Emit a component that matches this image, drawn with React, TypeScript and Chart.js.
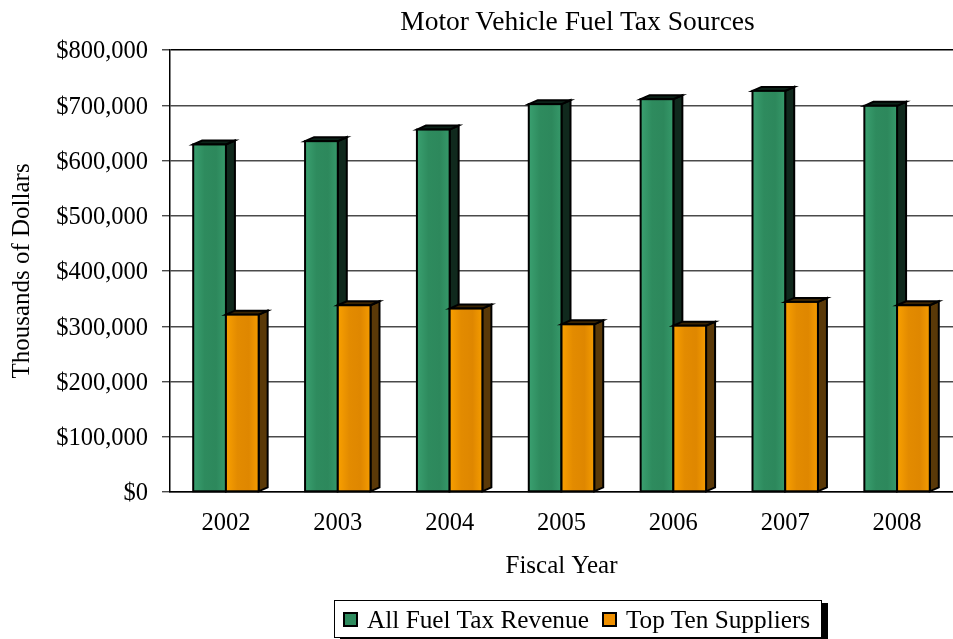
import React, { useEffect, useRef } from "react";
import { Chart, registerables } from "chart.js";

Chart.register(...registerables);

const categories = ["2002", "2003", "2004", "2005", "2006", "2007", "2008"];
const allFuelTaxRevenue = [629000, 635000, 656000, 702000, 711000, 726000, 699000];
const topTenSuppliers = [321000, 338000, 332000, 303500, 301000, 344000, 338000];
const seriesLabels = ["All Fuel Tax Revenue", "Top Ten Suppliers"];
const yTickValues = [0, 100000, 200000, 300000, 400000, 500000, 600000, 700000, 800000];
const chartTitle = "Motor Vehicle Fuel Tax Sources";
const xAxisTitle = "Fiscal Year";
const yAxisTitle = "Thousands of Dollars";

const FONT = '"Liberation Serif", "Times New Roman", serif';

const palettes = [
  { front: ["#3aa070", "#2e8b5e", "#2d885c", "#36996a"], side: "#10291d", top: "#0c2218", swatch: "#2e8b5e" },
  { front: ["#f9a000", "#e38b00", "#df8700", "#f59c00"], side: "#5a3908", top: "#3b2503", swatch: "#ef9000" },
];

const DEPTH_X = 9;
const DEPTH_Y = 4;

const bar3dPlugin = {
  id: "bar3d",
  afterDatasetsDraw(chart: any) {
    const ctx = chart.ctx;
    const metas = chart.data.datasets.map((_: any, i: number) => chart.getDatasetMeta(i));
    const n = chart.data.labels.length;
    ctx.save();
    ctx.lineJoin = "miter";
    for (let i = 0; i < n; i++) {
      metas.forEach((meta: any, d: number) => {
        const el = meta.data[i];
        if (!el) return;
        const p = el.getProps(["x", "y", "base", "width"], true);
        const left = p.x - p.width / 2;
        const right = p.x + p.width / 2;
        const top = p.y;
        const base = p.base;
        const pal = palettes[d];
        ctx.lineWidth = 2;
        ctx.strokeStyle = "#000";
        // side face
        ctx.beginPath();
        ctx.moveTo(right, top);
        ctx.lineTo(right + DEPTH_X, top - DEPTH_Y);
        ctx.lineTo(right + DEPTH_X, base - DEPTH_Y);
        ctx.lineTo(right, base);
        ctx.closePath();
        ctx.fillStyle = pal.side;
        ctx.fill();
        ctx.stroke();
        // top face
        ctx.beginPath();
        ctx.moveTo(left, top);
        ctx.lineTo(left + DEPTH_X, top - DEPTH_Y);
        ctx.lineTo(right + DEPTH_X, top - DEPTH_Y);
        ctx.lineTo(right, top);
        ctx.closePath();
        ctx.fillStyle = pal.top;
        ctx.fill();
        ctx.stroke();
        // front face
        const g = ctx.createLinearGradient(left, 0, right, 0);
        g.addColorStop(0, pal.front[0]);
        g.addColorStop(0.35, pal.front[1]);
        g.addColorStop(0.7, pal.front[2]);
        g.addColorStop(1, pal.front[3]);
        ctx.fillStyle = g;
        ctx.fillRect(left, top, right - left, base - top);
        ctx.strokeRect(left, top, right - left, base - top);
      });
    }
    ctx.restore();
  },
};

export default function App() {
  const canvasRef = useRef<HTMLCanvasElement | null>(null);

  useEffect(() => {
    document.body.style.margin = "0";
    const canvas = canvasRef.current;
    if (!canvas) return;
    const chart = new Chart(canvas, {
      type: "bar",
      data: {
        labels: categories,
        datasets: [
          {
            label: seriesLabels[0],
            data: allFuelTaxRevenue,
            backgroundColor: "rgba(0,0,0,0)",
            borderWidth: 0,
            categoryPercentage: 0.585,
            barPercentage: 1,
          },
          {
            label: seriesLabels[1],
            data: topTenSuppliers,
            backgroundColor: "rgba(0,0,0,0)",
            borderWidth: 0,
            categoryPercentage: 0.585,
            barPercentage: 1,
          },
        ],
      },
      options: {
        responsive: false,
        animation: false,
        devicePixelRatio: 1,
        layout: { padding: { top: 50, right: -6, bottom: 55, left: 0 } },
        plugins: {
          legend: { display: false },
          title: { display: false },
          tooltip: { enabled: false },
        },
        scales: {
          x: {
            type: "category",
            offset: true,
            grid: { display: false, drawTicks: false },
            border: { display: true, color: "#000", width: 1.5 },
            ticks: {
              color: "#000",
              font: { family: FONT, size: 24.5 },
              padding: 17,
              maxRotation: 0,
            },
            title: {
              display: true,
              text: xAxisTitle,
              color: "#000",
              font: { family: FONT, size: 25 },
              padding: { top: 0, bottom: 3 },
            },
            afterFit: (scale: any) => {
              scale.height = 92;
            },
          },
          y: {
            type: "linear",
            min: yTickValues[0],
            max: yTickValues[yTickValues.length - 1],
            afterBuildTicks: (scale: any) => {
              scale.ticks = yTickValues.map((v) => ({ value: v }));
            },
            grid: {
              color: (c: any) => (c.tick && c.tick.value === yTickValues[yTickValues.length - 1] ? "#000" : "#4a4a4a"),
              lineWidth: (c: any) => (c.tick && c.tick.value === yTickValues[yTickValues.length - 1] ? 1.5 : 1.4),
              drawTicks: true,
              tickLength: 8,
              tickColor: "#4a4a4a",
            },
            border: { display: true, color: "#000", width: 1.5 },
            ticks: {
              color: "#000",
              font: { family: FONT, size: 24.5 },
              padding: 14,
              labelOffset: 2,
              callback: (v: any) => "$" + Number(v).toLocaleString("en-US"),
            },
            title: {
              display: true,
              text: yAxisTitle,
              color: "#000",
              font: { family: FONT, size: 25 },
              padding: { top: 7, bottom: 0 },
            },
            afterFit: (scale: any) => {
              scale.width = 170;
            },
          },
        },
      },
      plugins: [bar3dPlugin],
    });
    return () => chart.destroy();
  }, []);

  return (
    <div style={{ position: "relative", width: 953, height: 639, background: "#fff", overflow: "hidden" }}>
      <canvas ref={canvasRef} width={953} height={639} style={{ display: "block", width: 953, height: 639 }} />
      <div
        style={{
          position: "absolute",
          left: 202,
          width: 751,
          top: 6,
          textAlign: "center",
          fontFamily: FONT,
          fontSize: 27.5,
          lineHeight: "30px",
          color: "#000",
          whiteSpace: "nowrap",
        }}
      >
        {chartTitle}
      </div>
      <div
        style={{
          position: "absolute",
          left: 334,
          top: 600,
          width: 488,
          height: 38,
          boxSizing: "border-box",
          border: "1px solid #000",
          boxShadow: "6px 3px 0 #000",
          background: "#fff",
          display: "flex",
          alignItems: "center",
          paddingLeft: 8,
          fontFamily: FONT,
          fontSize: 25.3,
          color: "#000",
          whiteSpace: "nowrap",
        }}
      >
        {seriesLabels.map((lab, i) => (
          <div key={lab} style={{ display: "flex", alignItems: "center", marginRight: i === 0 ? 13 : 0 }}>
            <span
              style={{
                display: "inline-block",
                width: 15,
                height: 15,
                boxSizing: "border-box",
                border: "2px solid #000",
                background: palettes[i].swatch,
                marginRight: 9,
              }}
            />
            <span style={{ lineHeight: "30px" }}>{lab}</span>
          </div>
        ))}
      </div>
    </div>
  );
}
